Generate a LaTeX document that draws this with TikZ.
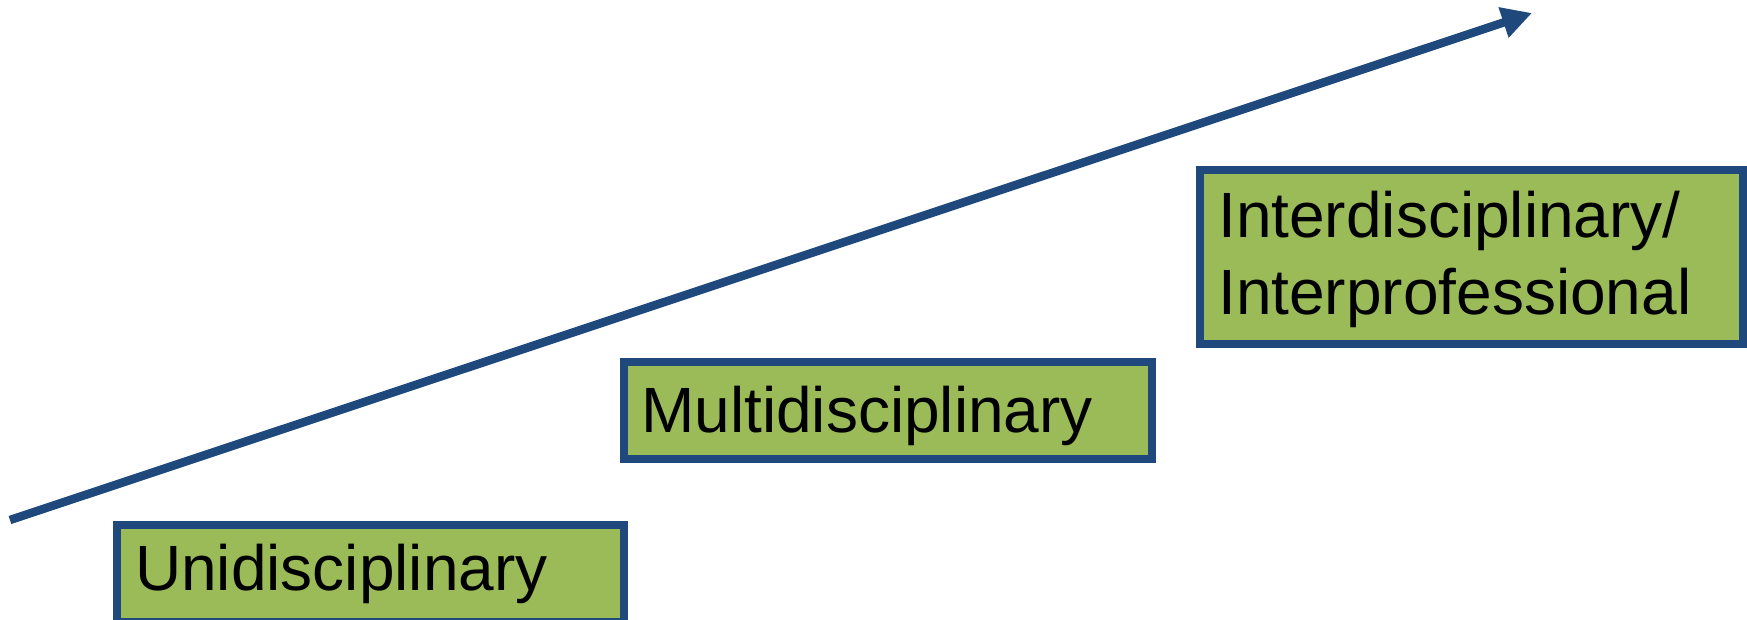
\documentclass[tikz,border=0pt]{standalone}
\usepackage{fontspec}
\setmainfont{Liberation Sans}
\usetikzlibrary{arrows.meta}
\definecolor{dblue}{RGB}{31,73,125}
\definecolor{olive}{RGB}{155,187,89}
\begin{document}
\begin{tikzpicture}[x=1pt,y=-1pt,
  box/.style={draw=dblue,fill=olive,line width=8pt,rectangle,inner sep=0pt,anchor=north west},
  lbl/.style={inner sep=0pt,anchor=base west,font=\fontsize{64}{77}\selectfont,align=left,text=black}]
\clip (0,0) rectangle (1747,620);
\path[use as bounding box] (0,0) rectangle (1747,620);
\node[box,minimum width=506.7pt,minimum height=96.2pt] (uni) at (113.3,521.3) {};
\node[box,minimum width=528pt,minimum height=96.7pt] (multi) at (620,358) {};
\node[box,minimum width=542.7pt,minimum height=174.3pt] (inter) at (1196,166) {};
\node[lbl] (unit) at (135,590) {Unidisciplinary};
\node[lbl] (multit) at (641,432) {Multidisciplinary};
\node[lbl,anchor=north west] (intert) at (1218,191) {Interdisciplinary/\\Interprofessional};
\coordinate (s) at (10,520);
\coordinate (e) at (1532,13);
\draw[dblue,line width=8.5pt,-{Triangle[length=30pt,width=30pt]}] (s) -- (e);
\end{tikzpicture}
\end{document}
